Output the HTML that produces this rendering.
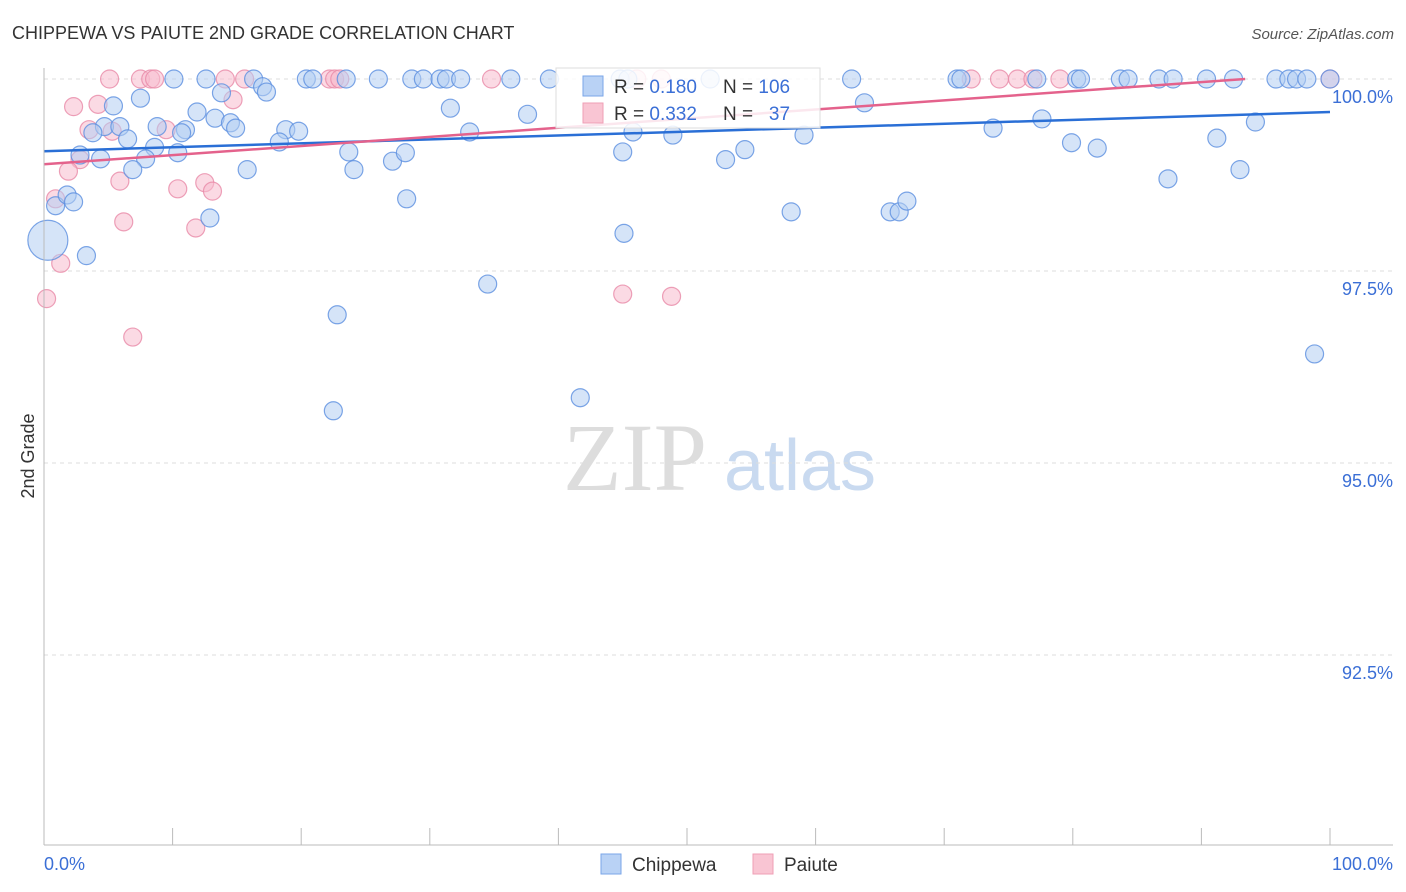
<!DOCTYPE html>
<html><head><meta charset="utf-8"><style>
body{margin:0;background:#fff;font-family:"Liberation Sans",sans-serif}
svg{display:block}
</style></head><body>
<svg id="chart" width="1406" height="892">
<text x="12" y="39" font-size="18" fill="#333">CHIPPEWA VS PAIUTE 2ND GRADE CORRELATION CHART</text>
<text x="1394" y="39" font-size="15" fill="#555" font-style="italic" text-anchor="end">Source: ZipAtlas.com</text>
<text x="34" y="456" font-size="18" fill="#333" transform="rotate(-90 34 456)" text-anchor="middle">2nd Grade</text>
<g><text x="635" y="490" font-size="96" fill="#ddd" font-family="Liberation Serif,serif" text-anchor="middle">ZIP</text><text x="800" y="490" font-size="72" fill="#c9daf0" text-anchor="middle">atlas</text></g>
<g id="grid"></g><g id="marks"></g>
<line x1="44" y1="68" x2="44" y2="845" stroke="#bbb"/>
<line x1="44" y1="845" x2="1393" y2="845" stroke="#bbb"/>
<text x="44" y="870" font-size="18" fill="#3b6fd6">0.0%</text>
<text x="1393" y="870" font-size="18" fill="#3b6fd6" text-anchor="end">100.0%</text>
<g>
<rect x="556" y="68" width="264" height="60" fill="#fff" fill-opacity="0.85" stroke="#ddd"/>
<rect x="583" y="76" width="20" height="20" fill="#b9d2f5" stroke="#7aa6e8"/>
<rect x="583" y="103" width="20" height="20" fill="#f9c5d3" stroke="#ef9fb6"/>
<text x="614" y="93" font-size="19" fill="#333">R = <tspan fill="#3b6fd6">0.180</tspan></text>
<text x="723" y="93" font-size="19" fill="#333">N = <tspan fill="#3b6fd6">106</tspan></text>
<text x="614" y="120" font-size="19" fill="#333">R = <tspan fill="#3b6fd6">0.332</tspan></text>
<text x="723" y="120" font-size="19" fill="#333">N = <tspan fill="#3b6fd6">&#160;&#160;37</tspan></text>
</g>
<g>
<rect x="601" y="854" width="20" height="20" fill="#b9d2f5" stroke="#7aa6e8"/>
<text x="632" y="871" font-size="19" fill="#333">Chippewa</text>
<rect x="753" y="854" width="20" height="20" fill="#f9c5d3" stroke="#ef9fb6"/>
<text x="784" y="871" font-size="19" fill="#333">Paiute</text>
</g>
</svg>
<script>
const yTicks=[100,97.5,95,92.5];
const yTickLabels=["100.0%","97.5%","95.0%","92.5%"];
const xTicks=[10,20,30,40,50,60,70,80,90,100];
const blueX=[10.1,12.6,16.3,20.4,20.9,23.5,26.0,28.6,29.5,30.8,31.3,32.4,36.3,39.3,44.8,45.4,51.8,62.8,71.0,71.3,77.2,80.3,80.6,83.7,84.3,86.7,87.8,90.4,92.5,95.8,96.8,97.4,98.2,100,
5.4,7.5,17.0,17.3,13.8,11.9,11.0,8.8,4.7,5.9,3.8,6.5,10.7,13.3,14.5,14.9,18.8,19.8,18.3,8.6,10.4,2.8,4.4,7.9,6.9,15.8,23.7,24.1,27.1,28.1,31.6,33.1,37.6,28.2,0.9,1.8,2.3,3.3,12.9,0.3,34.5,22.8,22.5,41.7,45.1,45.0,45.8,48.9,53.0,54.5,58.1,63.8,59.1,65.8,66.5,67.1,73.8,77.6,79.9,81.9,87.4,91.2,93.0,94.2,98.8];
const blueY=[100,100,100,100,100,100,100,100,100,100,100,100,100,100,100,100,100,100,100,100,100,100,100,100,100,100,100,100,100,100,100,100,100,100,
99.65,99.75,99.90,99.83,99.82,99.57,99.34,99.38,99.38,99.38,99.30,99.22,99.30,99.49,99.43,99.36,99.34,99.32,99.18,99.11,99.04,99.01,98.96,98.96,98.82,98.82,99.05,98.82,98.93,99.04,99.62,99.31,99.54,98.44,98.35,98.49,98.40,97.70,98.19,97.90,97.33,96.93,95.68,95.85,97.99,99.05,99.31,99.27,98.95,99.08,98.27,99.69,99.27,98.27,98.27,98.41,99.36,99.48,99.17,99.10,98.70,99.23,98.82,99.44,96.42];
const pinkX=[5.1,7.5,8.3,8.6,14.1,15.6,22.2,22.6,23.0,34.8,46.1,48.0,72.1,74.3,75.7,76.9,79.0,100,
2.3,4.2,14.7,3.5,5.3,9.5,2.8,1.9,5.9,10.4,12.5,13.1,0.9,6.2,11.8,1.3,0.2,6.9,45.0,48.8];
const pinkY=[100,100,100,100,100,100,100,100,100,100,100,100,100,100,100,100,100,100,
99.64,99.67,99.73,99.34,99.32,99.34,98.95,98.80,98.67,98.57,98.65,98.54,98.44,98.14,98.06,97.60,97.14,96.64,97.20,97.17];
const blueTrend=[[0,99.06],[100,99.57]];
const pinkTrend=[[0,98.89],[93.4,100]];
const NS="http://www.w3.org/2000/svg";
const X=v=>44+v*12.86;
const Y=v=>79+(100-v)*76.8;
const grid=document.getElementById('grid'),marks=document.getElementById('marks');
function mk(tag,attrs,parent){const e=document.createElementNS(NS,tag);for(const k in attrs)e.setAttribute(k,attrs[k]);parent.appendChild(e);return e;}
yTicks.forEach((t,i)=>{
 const l=mk('line',{x1:44,x2:1393,y1:Y(t),y2:Y(t),stroke:'#ddd','stroke-dasharray':'4,4'},grid);
 
 
 const tx=mk('text',{x:1393,y:Y(t)+24,'font-size':18,fill:'#3b6fd6','text-anchor':'end'},grid);
 tx.textContent=yTickLabels[i];
 
 
});
xTicks.forEach(t=>{
 const l=mk('line',{x1:X(t),x2:X(t),y1:828,y2:845,stroke:'#bbb'},grid);
 
 
});
function pts(xs,ys,fill,stroke,name){
 xs.forEach((x,i)=>{
  const big=(name==='chippewa-point'&&x===0.3&&ys[i]===97.9);
  const c=mk('circle',{cx:X(x),cy:Y(ys[i]),r:big?20:9,fill:fill,'fill-opacity':0.55,stroke:stroke,'stroke-opacity':0.8,'stroke-width':1.2},marks);
  
  
 });
}
pts(pinkX,pinkY,'#f7bccd','#e88aa8','paiute-point');
pts(blueX,blueY,'#b3cdf3','#5b8fe0','chippewa-point');
const bl=mk('line',{x1:X(blueTrend[0][0]),y1:Y(blueTrend[0][1]),x2:X(blueTrend[1][0]),y2:Y(blueTrend[1][1]),stroke:'#2a6fd6','stroke-width':2.5},marks);


const pl=mk('line',{x1:X(pinkTrend[0][0]),y1:Y(pinkTrend[0][1]),x2:X(pinkTrend[1][0]),y2:Y(pinkTrend[1][1]),stroke:'#e4628c','stroke-width':2.5},marks);


</script>
</body></html>
